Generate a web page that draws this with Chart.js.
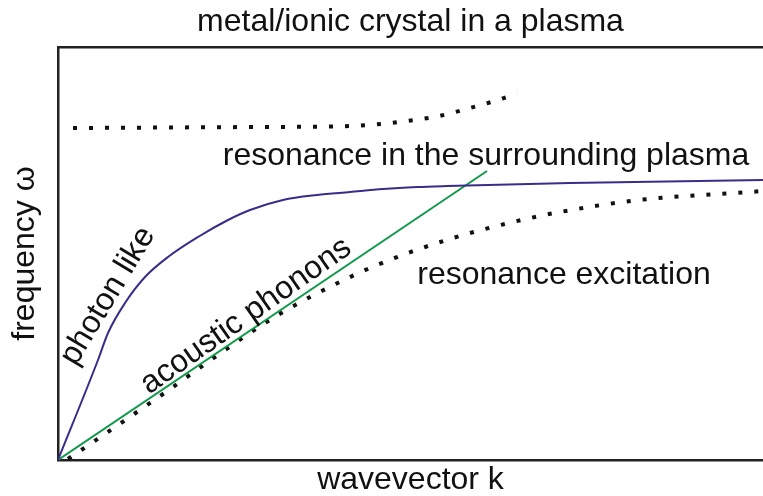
<!DOCTYPE html>
<html>
<head>
<meta charset="utf-8">
<script src="https://cdn.jsdelivr.net/npm/chart.js@4.4.1/dist/chart.umd.min.js"></script>
<style>
  html, body { margin: 0; padding: 0; background: #fff; }
  #wrap { width: 763px; height: 496px; }
</style>
</head>
<body>
<div id="wrap"><canvas id="dispChart"></canvas></div>
<script>
// 곡선 데이터 (임의 단위, 그림에서 읽은 값)
const photonK = [0, 40, 50, 67, 87, 110, 140, 170, 192, 225, 259, 292, 325, 359, 389, 512, 705];
const photonW = [0, 100, 127, 157, 183, 203, 223, 240, 250, 260, 265, 268, 271, 273, 274, 277, 280];

const acousticK = [0, 429];
const acousticW = [0, 289];

const excitK = [10, 63, 115, 167, 220, 290, 334, 395, 455, 502, 581, 692, 705];
const excitW = [1, 37, 73, 110, 145, 182, 201, 222, 238, 248, 260, 268, 269];

const plasmaK = [15, 200, 292, 349, 381, 412, 443, 459];
const plasmaW = [332, 333, 334, 339, 344, 352, 361, 367];

// 곡선 위 글자 (데이터 좌표, 회전각)
const notes = [
  { text: "resonance in the surrounding plasma", k: 428, w: 304, angle: 0 },
  { text: "resonance excitation", k: 506, w: 185, angle: 0 },
  { text: "photon like", k: 50, w: 164, angle: -59 },
  { text: "acoustic phonons", k: 188, w: 144, angle: -35 }
];

const FONT = "'Liberation Sans', Arial, sans-serif";
const toPts = (xs, ys) => xs.map((x, i) => ({ x: x, y: ys[i] }));

// 글자 그리기 플러그인
const notePlugin = {
  id: "notes",
  afterDatasetsDraw(chart) {
    const ctx = chart.ctx;
    const sx = chart.scales.x, sy = chart.scales.y;
    ctx.save();
    ctx.fillStyle = "#111";
    ctx.font = "32px " + FONT;
    ctx.textAlign = "center";
    ctx.textBaseline = "middle";
    notes.forEach(n => {
      ctx.save();
      ctx.translate(sx.getPixelForValue(n.k), sy.getPixelForValue(n.w));
      ctx.rotate(n.angle * Math.PI / 180);
      ctx.fillText(n.text, 0, 0);
      ctx.restore();
    });
    ctx.restore();
  }
};

const dotted = {
  borderColor: "#111",
  borderWidth: 4,
  borderDash: [4, 12],
  borderCapStyle: "butt",
  pointRadius: 0,
  fill: false,
  cubicInterpolationMode: "monotone"
};

const ctx = document.getElementById("dispChart").getContext("2d");
new Chart(ctx, {
  type: "scatter",
  data: {
    datasets: [
      {
        label: "photon like",
        data: toPts(photonK, photonW),
        showLine: true,
        borderColor: "#3a2d8a",
        borderWidth: 2,
        pointRadius: 0,
        cubicInterpolationMode: "monotone"
      },
      {
        label: "acoustic phonons",
        data: toPts(acousticK, acousticW),
        showLine: true,
        borderColor: "#13994b",
        borderWidth: 2,
        pointRadius: 0
      },
      Object.assign({ label: "resonance excitation", data: toPts(excitK, excitW), showLine: true }, dotted),
      Object.assign({ label: "plasma resonance", data: toPts(plasmaK, plasmaW), showLine: true }, dotted)
    ]
  },
  options: {
    responsive: true,
    maintainAspectRatio: false,
    animation: false,
    layout: { padding: 0 },
    plugins: {
      legend: { display: false },
      tooltip: { enabled: false },
      title: {
        display: true,
        fullSize: false,
        text: "metal/ionic crystal in a plasma",
        color: "#111",
        font: { family: FONT, size: 32, weight: "normal", lineHeight: 1.2 },
        padding: { top: 3, bottom: 0 }
      }
    },
    scales: {
      x: {
        type: "linear",
        min: 0,
        max: 705,
        ticks: { display: false },
        grid: { display: false },
        border: { display: true, color: "#222", width: 2.5 },
        title: {
          display: true,
          text: "wavevector k",
          color: "#111",
          font: { family: FONT, size: 32, lineHeight: 1.0 },
          padding: { top: 0, bottom: 0 }
        },
        afterFit: s => { s.height = 36; }
      },
      x2: {
        type: "linear",
        position: "top",
        min: 0,
        max: 705,
        ticks: { display: false },
        grid: { display: false },
        border: { display: true, color: "#222", width: 2.5 },
        afterFit: s => { s.height = 5.6; }
      },
      y: {
        type: "linear",
        min: 0,
        max: 413,
        ticks: { display: false },
        grid: { display: false },
        border: { display: true, color: "#222", width: 2.5 },
        title: {
          display: true,
          text: "frequency ω",
          color: "#111",
          font: { family: FONT, size: 32 },
          padding: { top: 6, bottom: 0 }
        },
        afterFit: s => { s.width = 58; }
      }
    }
  },
  plugins: [notePlugin]
});
</script>
</body>
</html>
